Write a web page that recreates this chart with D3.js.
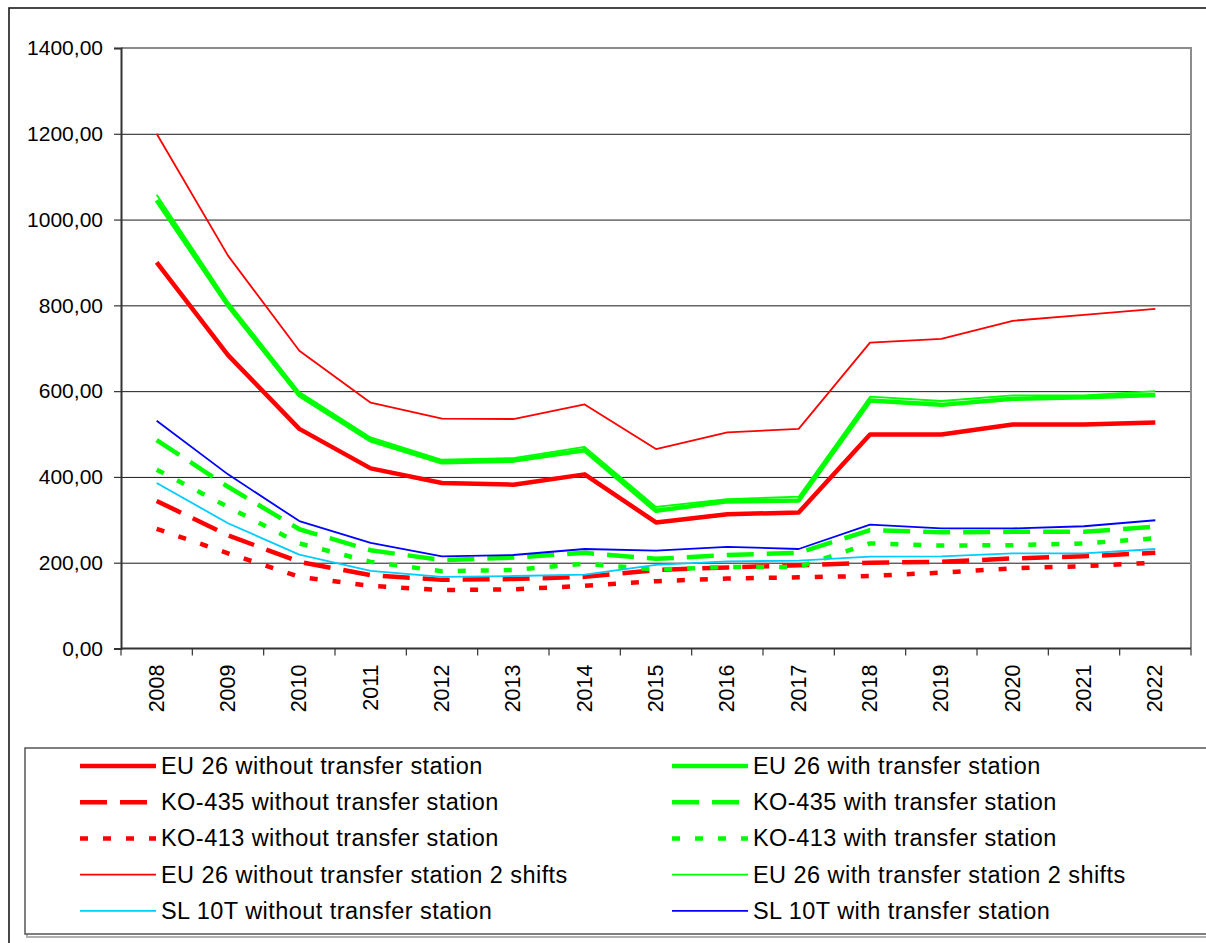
<!DOCTYPE html>
<html>
<head>
<meta charset="utf-8">
<script src="https://cdn.jsdelivr.net/npm/d3@7"></script>
<style>
    html, body { margin: 0; padding: 0; background: #fff; }
    svg { display: block; font-family: "Liberation Sans", Arial, sans-serif; }
</style>
</head>
<body>
<svg id="chart" width="1206" height="943"></svg>
<script>
// Cost per year for waste collection variants, 2008–2022

const YEARS = ['2008','2009','2010','2011','2012','2013','2014','2015','2016','2017','2018','2019','2020','2021','2022'];
const Y_TICKS = [0, 200, 400, 600, 800, 1000, 1200, 1400];

const eu26Without    = [900, 684, 512, 420, 386, 382, 406, 294, 313, 317, 499, 499, 522, 522, 527];
const eu26With       = [1045, 800, 591, 485, 434, 438, 462, 321, 343, 345, 578, 568, 582, 586, 591];
const ko435Without   = [344, 264, 202, 171, 160, 162, 167, 183, 189, 194, 200, 202, 210, 215, 223];
const ko435With      = [486, 377, 278, 229, 206, 212, 223, 209, 218, 223, 276, 271, 272, 272, 284];
const ko413Without   = [279, 222, 167, 146, 136, 138, 146, 157, 163, 166, 169, 177, 187, 192, 200];
const ko413With      = [417, 330, 245, 202, 180, 183, 198, 184, 190, 190, 245, 240, 241, 245, 257];
const eu26Without2sh = [1200, 916, 694, 573, 536, 535, 569, 465, 504, 512, 713, 722, 764, 778, 792];
const eu26With2sh    = [1058, 808, 598, 492, 440, 444, 470, 330, 348, 354, 587, 577, 590, 590, 600];
const sl10Without    = [386, 292, 219, 181, 167, 169, 172, 195, 203, 205, 214, 215, 222, 222, 232];
const sl10With       = [531, 406, 297, 246, 215, 218, 232, 228, 237, 232, 289, 280, 280, 285, 299];

// legend order = drawing order (Excel fills the 2-column legend row by row)
const SERIES = [
    { label: 'EU 26 without transfer station',          values: eu26Without,    color: '#ff0000', width: 4.5, dash: null },
    { label: 'EU 26 with transfer station',             values: eu26With,       color: '#00ff00', width: 4.5, dash: null },
    { label: 'KO-435 without transfer station',         values: ko435Without,   color: '#ff0000', width: 4.5, dash: '27,13' },
    { label: 'KO-435 with transfer station',            values: ko435With,      color: '#00ff00', width: 4.5, dash: '27,13' },
    { label: 'KO-413 without transfer station',         values: ko413Without,   color: '#ff0000', width: 4.5, dash: '8,15' },
    { label: 'KO-413 with transfer station',            values: ko413With,      color: '#00ff00', width: 4.5, dash: '8,15' },
    { label: 'EU 26 without transfer station 2 shifts', values: eu26Without2sh, color: '#ff0000', width: 1.8, dash: null },
    { label: 'EU 26 with transfer station 2 shifts',    values: eu26With2sh,    color: '#00ff00', width: 1.8, dash: null },
    { label: 'SL 10T without transfer station',         values: sl10Without,    color: '#00ccff', width: 1.8, dash: null },
    { label: 'SL 10T with transfer station',            values: sl10With,       color: '#0000ff', width: 1.8, dash: null },
];

const svg = d3.select('#chart');

// ── Outer chart frame ─────────────────────────────────────────────────────────
svg.append('rect')
    .attr('x', 9).attr('y', 8).attr('width', 1230).attr('height', 980)
    .attr('fill', '#fff').attr('stroke', '#1a1a1a').attr('stroke-width', 1.6);

// ── Plot area ─────────────────────────────────────────────────────────────────
const PLOT = { left: 121, top: 48, right: 1191, bottom: 648.5 };

const x = d3.scaleBand().domain(YEARS).range([PLOT.left, PLOT.right]).padding(0);
const y = d3.scaleLinear().domain([0, 1400]).range([PLOT.bottom, PLOT.top]);
const cx = d => x(d) + x.bandwidth() / 2;

// gridlines
svg.append('g')
    .attr('transform', `translate(${PLOT.left},0)`)
    .call(d3.axisLeft(y).tickValues(Y_TICKS.filter(v => v > 0 && v < 1400))
        .tickSize(-(PLOT.right - PLOT.left)).tickFormat(''))
    .call(g => g.select('.domain').remove())
    .call(g => g.selectAll('line').attr('stroke', '#1a1a1a').attr('stroke-width', 1));

// top + right border of plot area (grey)
svg.append('path')
    .attr('d', `M${PLOT.left},${y(1400)}H${PLOT.right}V${PLOT.bottom}`)
    .attr('fill', 'none').attr('stroke', '#8c8c8c').attr('stroke-width', 2);

// y axis
svg.append('g')
    .attr('transform', `translate(${PLOT.left},0)`)
    .call(d3.axisLeft(y).tickValues(Y_TICKS).tickSize(7).tickPadding(11)
        .tickFormat(d => d.toFixed(2).replace('.', ',')))
    .call(g => g.select('.domain').attr('stroke', '#333').attr('stroke-width', 2))
    .call(g => g.selectAll('line').attr('stroke', '#333').attr('stroke-width', 1.2))
    .call(g => g.selectAll('text')
        .attr('font-family', '"Liberation Sans", Arial, sans-serif')
        .attr('font-size', '21px').attr('fill', '#000'));

// x axis: line, boundary ticks, rotated labels
const xg = svg.append('g');
xg.append('line')
    .attr('x1', PLOT.left).attr('x2', PLOT.right)
    .attr('y1', PLOT.bottom).attr('y2', PLOT.bottom)
    .attr('stroke', '#333').attr('stroke-width', 2);

xg.selectAll('.x-tick')
    .data(YEARS.map(d => x(d)).concat([x(YEARS[YEARS.length - 1]) + x.bandwidth()]))
    .join('line')
    .attr('class', 'x-tick')
    .attr('x1', d => d).attr('x2', d => d)
    .attr('y1', PLOT.bottom).attr('y2', PLOT.bottom + 7)
    .attr('stroke', '#333').attr('stroke-width', 1.2);

xg.selectAll('.x-label')
    .data(YEARS)
    .join('text')
    .attr('class', 'x-label')
    .attr('transform', d => `translate(${cx(d)},${PLOT.bottom + 16}) rotate(-90)`)
    .attr('text-anchor', 'end')
    .attr('dominant-baseline', 'central')
    .attr('font-size', '21.5px')
    .attr('fill', '#000')
    .text(d => d);

// ── Series lines ──────────────────────────────────────────────────────────────
const line = d3.line()
    .x((d, i) => cx(YEARS[i]))
    .y(d => y(d));

svg.append('g')
    .selectAll('.series')
    .data(SERIES)
    .join('path')
    .attr('class', 'series')
    .attr('d', s => line(s.values))
    .attr('fill', 'none')
    .attr('stroke', s => s.color)
    .attr('stroke-width', s => s.width)
    .attr('stroke-dasharray', s => s.dash)
    .attr('stroke-linejoin', 'round');

// ── Legend ────────────────────────────────────────────────────────────────────
// shadow + box
svg.append('rect')
    .attr('x', 27).attr('y', 750).attr('width', 1200).attr('height', 187)
    .attr('fill', 'none').attr('stroke', '#b0b0b0').attr('stroke-width', 2);
svg.append('rect')
    .attr('x', 25).attr('y', 748).attr('width', 1200).attr('height', 186)
    .attr('fill', '#fff').attr('stroke', '#555').attr('stroke-width', 1.5);

const LEG_COLS = [80, 672];
const LEG_ROW0 = 766, LEG_ROW_H = 36.2;

const items = svg.append('g')
    .selectAll('.leg-item')
    .data(SERIES)
    .join('g')
    .attr('class', 'leg-item')
    .attr('transform', (d, i) => `translate(${LEG_COLS[i % 2]},${LEG_ROW0 + Math.floor(i / 2) * LEG_ROW_H})`);

items.append('line')
    .attr('x1', 0).attr('x2', 76)
    .attr('stroke', d => d.color)
    .attr('stroke-width', d => d.width)
    .attr('stroke-dasharray', d => d.dash);

items.append('text')
    .attr('x', 81)
    .attr('dominant-baseline', 'central')
    .attr('font-size', '23.5px')
    .attr('letter-spacing', '0.45px')
    .attr('fill', '#000')
    .text(d => d.label);
</script>
</body>
</html>
